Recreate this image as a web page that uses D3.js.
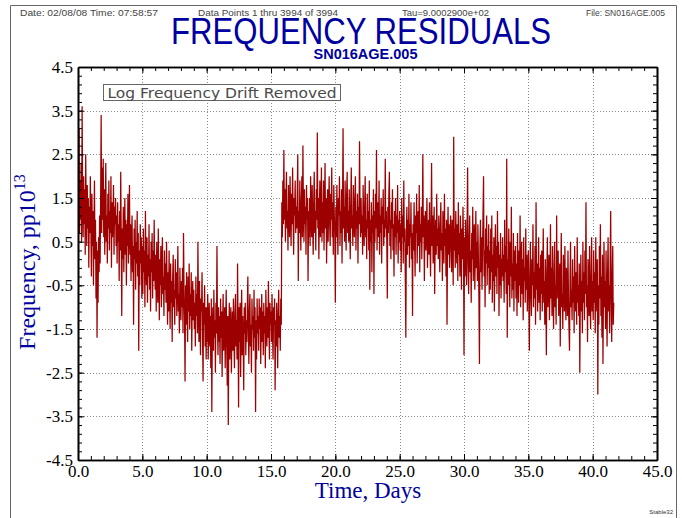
<!DOCTYPE html>
<html>
<head>
<meta charset="utf-8">
<script src="https://cdn.jsdelivr.net/npm/d3@7"></script>
<style>
  body { margin: 0; background: #fff; }
  svg { display: block; }
</style>
</head>
<body>
<svg id="chart" width="682" height="518"></svg>
<script>
// Spacing of the plotted residual samples, in days (25 samples per day)
const sampleStepDays = 0.04;

// Frequency residuals (pp10^13) after log drift removal, one row per day
const residuals = [
  /* day 0 */  2.1, 1.2, 3.1, 0.7, 1.9, 1.0, 2.3, 0.5, 3.6, 1.4, 0.6, 2.0, 0.9, 1.7, 0.2, 2.5, 1.1, 0.4, 1.8, 0.8, 1.5, -0.1, 1.3, 0.7, 2.0,
  /* day 1 */  0.9, -0.3, 1.6, 0.4, 1.2, -0.5, 0.8, 1.9, 0.1, 1.0, -0.8, 0.5, -1.7, 0.3, -0.9, 0.6, -0.2, 1.1, 0.0, 1.5, 3.4, 0.7, 2.2, 1.0, 2.4,
  /* day 2 */  0.6, 1.7, 0.2, 1.3, 2.3, 0.5, 1.1, 0.0, 1.6, 0.8, 1.9, 0.3, 1.2, 0.7, 2.0, -0.1, 1.4, 0.6, 1.0, 1.8, 0.2, 1.3, 0.9, 1.5, 0.4,
  /* day 3 */  1.1, 0.0, 1.4, 0.5, 0.9, -0.4, 1.2, 0.3, 2.1, 0.6, -1.2, 0.8, 0.1, 1.3, -0.2, 0.7, 1.5, 0.2, 1.0, -0.5, 0.9, 0.4, 1.6, 0.0, 0.8,
  /* day 4 */  1.8, 0.2, 0.9, -0.4, 0.6, 1.1, -0.2, 0.4, -1.4, 0.8, 0.1, 1.0, -0.6, 0.5, 0.0, 1.2, -0.3, 0.7, -2.0, 0.3, -0.5, 0.9, 0.0, 0.6, -0.8,
  /* day 5 */  0.4, -0.7, 0.8, -0.2, 0.3, -1.0, 1.2, 0.0, -0.5, 0.6, -0.9, 0.2, -0.3, 0.9, -0.6, 0.1, -1.1, 0.5, -0.2, 0.7, -0.8, 0.3, -0.4, 1.0, -0.1,
  /* day 6 */  -0.6, 0.2, -1.1, 0.5, -0.4, -0.9, 0.8, -0.2, -1.3, 0.1, -0.5, 0.4, -1.0, -0.1, 0.6, -0.7, -0.3, -1.2, 0.3, -0.6, 0.0, -0.9, 0.5, -0.4, -1.4,
  /* day 7 */  -0.2, -1.1, 0.3, -0.7, -1.5, 0.0, -0.9, -0.4, -1.8, -0.3, 0.2, -1.0, -0.6, -1.4, 0.1, -0.8, -0.2, -1.2, -0.5, 0.4, -1.1, -0.7, -1.6, -0.1, -0.9,
  /* day 8 */  -1.3, -0.4, -1.0, -0.1, -1.6, 0.7, -0.6, -1.2, -2.7, -0.5, -1.4, -0.2, -0.9, -1.8, -0.3, -1.1, 0.0, -1.5, -0.7, -1.2, -0.2, -2.0, -0.8, -0.4, -1.3,
  /* day 9 */  -0.6, -1.5, -0.9, -1.9, -0.3, -1.2, -0.7, -1.6, 0.5, -1.0, -1.8, -0.4, -1.3, -2.1, -0.8, -1.1, -0.2, -1.7, -2.7, -0.9, -1.4, -0.5, -1.9, -1.0, -2.2,
  /* day 10 */ -1.0, -1.8, -0.7, -2.2, -1.3, -0.9, -1.9, -1.2, -2.4, -0.8, -3.4, -1.5, -1.0, -2.0, -0.6, -1.7, -1.3, -2.5, -0.9, -1.6, 0.4, -1.4, -2.1, -1.0, -1.8,
  /* day 11 */ -1.2, -2.3, -0.8, -1.7, -1.1, -2.6, -1.4, -0.7, -2.0, -1.5, -1.0, -2.4, -1.3, -0.6, -1.9, -2.8, -1.2, -3.7, -1.6, -0.9, -2.2, -1.4, -1.0, -2.5, -1.7,
  /* day 12 */ -1.1, -2.0, -0.8, -1.6, -2.4, -1.2, -0.7, -1.9, -1.3, -2.2, 0.0, -1.5, -3.3, -1.0, -1.8, -0.9, -2.6, -1.4, -0.6, -2.1, -1.2, -1.7, -2.9, -1.0, -1.6,
  /* day 13 */ -0.9, -2.1, -1.3, -1.8, -1.0, -0.3, -1.6, -2.3, -1.1, -0.7, -1.9, -1.4, -2.5, -0.8, -1.5, -1.2, -2.0, -0.6, -1.7, -1.0, -3.4, -1.3, -2.2, -0.8, -1.6,
  /* day 14 */ -1.2, -2.0, -0.8, -1.5, -1.0, -2.3, -1.4, -0.7, -1.8, -1.1, -2.1, -0.9, -1.6, -1.2, -2.4, -0.6, -1.3, -1.9, -1.0, -1.7, -0.4, -1.5, -2.2, -0.9, -1.4,
  /* day 15 */ -1.1, -1.8, -0.7, -1.6, -2.2, -1.0, -1.4, -0.8, -2.9, -1.3, -1.9, -0.9, -1.5, -2.4, -1.1, -0.6, -1.7, -1.2, -2.0, -0.8, -1.4, 1.4, 0.6, 1.9, 0.9,
  /* day 16 */ 2.6, 1.0, 1.7, 0.5, 1.4, 2.1, 0.8, 1.2, 0.3, 1.8, 1.1, 0.6, 2.0, 1.3, 0.4, 1.6, 0.9, 2.2, 1.0, 0.2, 1.5, 1.1, 1.9, 0.7, 1.3,
  /* day 17 */ 0.8, 1.6, 2.5, -0.4, 1.2, 0.7, 1.9, 1.0, 0.3, 1.4, 2.0, 0.6, 2.7, 1.1, 0.5, 1.7, 0.9, 1.3, 0.2, 1.8, 1.0, 1.5, -0.4, 1.2, 0.6,
  /* day 18 */ 1.5, 0.4, 2.0, 1.1, 0.6, 1.8, 0.9, 0.2, 1.4, 2.1, 0.7, 1.2, 0.3, 1.7, 1.0, 3.0, 0.8, 1.5, 0.1, 1.3, 1.9, 0.6, 1.1, 2.2, 0.5,
  /* day 19 */ 1.4, 0.7, 1.9, 0.3, 1.2, 2.3, 0.8, 1.5, 0.0, 1.1, 1.7, 0.5, 1.3, 2.0, 0.9, 0.4, 1.6, 1.0, 2.2, 0.6, 1.4, 0.2, 1.8, 1.1, 0.7,
  /* day 20 */ -0.9, 1.3, 0.6, 1.8, 0.9, 0.2, 1.5, 1.1, 2.0, 0.4, 1.2, 0.7, 1.7, 0.0, 1.4, 3.1, 0.8, 1.3, 0.5, 1.9, 1.0, 0.3, 1.6, 2.1, 0.7,
  /* day 21 */ 1.2, 0.5, 1.7, 0.9, 0.1, 1.4, 2.2, 0.8, 1.1, 0.4, 1.8, 1.0, 0.6, 1.5, 2.0, 0.3, 1.2, 0.8, 1.6, 0.0, 1.3, 0.9, 2.8, 1.1, 0.6,
  /* day 22 */ 1.5, 0.7, 1.1, 0.2, 1.8, 0.9, 0.4, 1.3, 2.0, 0.6, 1.0, 0.1, 1.6, 0.8, 1.2, 0.3, 1.9, -0.6, 1.0, 0.5, 1.4, -0.2, 1.1, 0.7, 1.7,
  /* day 23 */ -0.7, 1.2, 0.5, 1.6, 0.8, 2.6, 0.3, 1.0, 1.4, 0.6, 1.9, 0.2, 1.1, 0.7, 1.5, 0.0, 1.3, 0.9, 1.7, 0.4, 1.0, 0.6, 2.4, 0.8, 1.2,
  /* day 24 */ 0.5, -0.8, 1.3, 0.7, 1.6, 2.1, 0.4, 1.0, 0.1, 1.4, 0.8, 1.7, 0.3, 0.9, -0.3, 1.2, 0.6, 1.5, 0.2, 1.1, 0.7, 1.8, 0.0, 1.0, 0.5,
  /* day 25 */ 1.2, 0.3, 0.9, -0.2, 1.5, 0.6, 1.1, 0.0, 1.9, 0.5, 0.8, -0.4, -1.7, 0.7, 1.3, 0.2, 1.0, 0.4, 1.6, -0.1, 0.9, 0.6, 1.4, 0.1, 0.7,
  /* day 26 */ -1.2, 0.9, 0.3, 1.4, 0.6, -0.3, 1.1, 0.7, 1.6, 0.0, 0.8, 1.2, 0.4, 1.8, -0.2, 0.9, 0.5, 1.3, 0.1, 1.0, 2.5, 0.6, 1.1, -0.4, 0.8,
  /* day 27 */ 1.2, 0.3, 0.8, 1.5, -0.1, 0.6, 1.0, 0.2, 1.4, 0.5, -0.3, 0.9, 2.3, 0.4, 1.1, 0.0, 0.7, 1.3, -0.7, 0.6, 1.0, 0.2, 1.6, 0.4, 0.8,
  /* day 28 */ 0.1, 1.1, 0.5, -0.2, 0.9, 1.4, 0.3, 0.7, -0.4, 1.2, 0.6, 0.0, 1.6, 0.4, 0.8, -0.3, 1.0, -1.4, 0.5, 1.3, 0.2, 0.9, -0.1, 0.6, 1.1,
  /* day 29 */ 0.4, -0.2, 1.0, 0.6, -0.5, 2.9, 0.3, 0.8, -0.1, 1.2, 0.5, 0.0, 0.9, -0.4, 1.4, 0.2, 0.7, -0.3, 1.1, 0.4, -0.6, 0.8, 0.1, 1.3, 0.5,
  /* day 30 */ -2.1, 0.6, -0.3, 1.0, 0.2, -0.5, 0.8, 2.2, 0.0, -0.7, 0.5, 1.1, -0.2, 0.3, -0.9, 0.7, 0.1, 1.3, -0.4, 0.4, 0.9, -0.6, 0.2, 1.2, -0.1,
  /* day 31 */ 0.5, -0.4, 0.9, 0.1, -0.8, -2.3, 0.4, 1.0, -0.2, 0.6, -0.6, 0.2, 1.2, 2.0, -0.3, 0.3, -1.0, 0.8, 0.0, 1.1, -0.5, 0.4, -0.1, 0.9, -0.7,
  /* day 32 */ 0.3, -0.6, 0.8, -0.2, 1.1, -0.9, 0.2, -0.4, 0.6, -1.1, 0.0, 0.9, -0.3, 0.4, -0.7, 1.2, -0.1, 0.5, -1.2, 0.2, -0.5, 0.7, -0.8, 0.1, -0.3,
  /* day 33 */ 0.6, -0.4, 0.2, -0.9, 1.0, -0.2, 0.4, -0.7, 2.4, -1.7, 0.1, -0.5, 0.8, -0.1, -1.0, 0.5, -0.3, 1.3, -0.8, 0.0, -0.6, 0.7, -1.1, 0.3, -0.4,
  /* day 34 */ 0.4, -0.8, 0.0, -1.2, 0.7, -0.3, -0.9, 0.3, -0.5, 1.1, -1.0, -0.2, 0.5, -0.7, 0.1, -1.3, 0.6, -0.4, -0.1, -0.9, 0.8, -0.6, 0.2, -1.1, -0.2,
  /* day 35 */ 0.3, -0.9, -2.0, -0.3, 0.5, -0.7, -1.2, 0.1, -0.5, 0.9, -1.0, -0.2, -0.8, 0.4, -1.4, 1.4, -0.6, 0.0, -1.1, -0.4, 0.6, -0.9, -0.1, -1.3, 0.2,
  /* day 36 */ -0.7, 0.3, -1.1, -0.3, 0.8, -0.9, -0.4, -1.4, 0.1, -0.6, -2.1, -0.2, 0.6, -1.0, -0.5, 0.2, -1.3, -0.7, 0.9, -0.8, -0.1, -1.2, 0.4, -0.6, -1.5,
  /* day 37 */ -0.3, 0.5, -1.0, -0.5, -1.4, 1.1, -0.8, -0.2, 0.3, -1.2, -0.6, 0.0, -1.9, -0.4, 0.7, -1.0, -0.7, -1.5, 0.2, -0.3, -1.1, 0.4, -0.8, -1.3, -0.1,
  /* day 38 */ -0.5, -1.2, 0.3, -0.8, -1.5, -2.0, -0.4, 0.5, -1.0, -0.6, -1.3, 0.1, -0.9, -0.3, -1.6, 0.4, -0.7, -1.1, -0.2, -1.4, 0.6, -0.9, -0.5, -1.2, 0.0,
  /* day 39 */ -2.5, -0.8, 0.2, -1.1, -0.4, -1.6, 0.5, -0.9, -0.2, -1.3, 0.3, -0.7, 1.4, -1.0, -0.5, -1.8, 0.1, -0.6, -1.2, 0.4, -0.9, -1.5, -0.3, 0.6, -1.1,
  /* day 40 */ -0.4, -1.3, 0.3, -0.9, -0.2, -1.6, 0.6, -0.7, -1.1, 0.1, -3.0, -0.5, -1.4, 0.4, -0.8, 0.9, -1.2, -0.3, -1.7, 0.2, -2.3, -0.6, 0.5, -1.0, -0.4,
  /* day 41 */ -1.5, 0.3, -0.8, -1.9, -0.2, 0.6, -1.1, -0.5, -1.6, 0.1, 1.2, -0.9, -1.8, -0.3, 0.4, -1.4, -0.9
];

// Axis ticks and their labels
const xTicks = [0, 5, 10, 15, 20, 25, 30, 35, 40, 45];
const xTickLabels = ["0.0", "5.0", "10.0", "15.0", "20.0", "25.0", "30.0", "35.0", "40.0", "45.0"];
const yTicks = [-4.5, -3.5, -2.5, -1.5, -0.5, 0.5, 1.5, 2.5, 3.5, 4.5];
const yTickLabels = ["-4.5", "-3.5", "-2.5", "-1.5", "-0.5", "0.5", "1.5", "2.5", "3.5", "4.5"];
const xMinorStep = 1;
const yMinorStep = 0.2;

// Header and annotation texts
const titleText = "FREQUENCY RESIDUALS";
const subtitleText = "SN016AGE.005";
const dateText = "Date: 02/08/08  Time: 07:58:57";
const pointsText = "Data Points 1 thru 3994 of 3994";
const tauText = "Tau=9.0002900e+02";
const fileText = "File: SN016AGE.005";
const noteText = "Log Frequency Drift Removed";
const xLabel = "Time, Days";
const yLabel = "Frequency, pp10";
const yLabelExp = "13";
const footerText = "Stable32";

const svg = d3.select("#chart");
const blue = "#0000a0";
const plot = { left: 78, right: 657, top: 67, bottom: 460 };

const x = d3.scaleLinear().domain([0, 45]).range([plot.left, plot.right]);
const y = d3.scaleLinear().domain([-4.5, 4.5]).range([plot.bottom, plot.top]);

// Page frame
svg.append("path")
  .attr("d", "M10.5,518V5.5H676.5V518")
  .attr("fill", "none")
  .attr("stroke", "#666")
  .attr("stroke-width", 1);

// Header line
const header = svg.append("g")
  .attr("font-family", "'Liberation Sans', Arial, sans-serif")
  .attr("font-size", 9)
  .attr("fill", "#444")
  .style("white-space", "pre");
header.append("text").attr("x", 20).attr("y", 16).attr("textLength", 138).attr("lengthAdjust", "spacingAndGlyphs").text(dateText);
header.append("text").attr("x", 198).attr("y", 16).attr("textLength", 140).attr("lengthAdjust", "spacingAndGlyphs").text(pointsText);
header.append("text").attr("x", 402).attr("y", 16).attr("textLength", 87).attr("lengthAdjust", "spacingAndGlyphs").text(tauText);
header.append("text").attr("x", 586).attr("y", 16).attr("textLength", 79).attr("lengthAdjust", "spacingAndGlyphs").text(fileText);

// Title and file name
svg.append("text")
  .attr("x", 361).attr("y", 43.5)
  .attr("text-anchor", "middle")
  .attr("font-family", "'Liberation Sans', Arial, sans-serif")
  .attr("font-size", 36)
  .attr("textLength", 380)
  .attr("lengthAdjust", "spacingAndGlyphs")
  .attr("fill", blue)
  .text(titleText);
svg.append("text")
  .attr("x", 365.5).attr("y", 58.5)
  .attr("text-anchor", "middle")
  .attr("font-family", "'Liberation Sans', Arial, sans-serif")
  .attr("font-weight", "bold")
  .attr("font-size", 14.5)
  .attr("fill", blue)
  .text(subtitleText);

// Dotted grid at the inner major ticks
const grid = svg.append("g")
  .attr("stroke", "#8a8a8a")
  .attr("stroke-width", 1)
  .attr("stroke-dasharray", "1,2");
grid.selectAll("line.gx")
  .data(xTicks.filter(d => d > 0 && d < 45))
  .join("line")
  .attr("class", "gx")
  .attr("x1", d => Math.round(x(d)) + 0.5).attr("x2", d => Math.round(x(d)) + 0.5)
  .attr("y1", plot.top).attr("y2", plot.bottom);
grid.selectAll("line.gy")
  .data(yTicks.filter(d => d > -4.5 && d < 4.5))
  .join("line")
  .attr("class", "gy")
  .attr("y1", d => Math.round(y(d)) + 0.5).attr("y2", d => Math.round(y(d)) + 0.5)
  .attr("x1", plot.left).attr("x2", plot.right);

// Residual trace
svg.append("clipPath").attr("id", "plot-clip")
  .append("rect")
  .attr("x", plot.left).attr("y", plot.top)
  .attr("width", plot.right - plot.left).attr("height", plot.bottom - plot.top);

const trace = d3.line()
  .x((d, i) => x(i * sampleStepDays))
  .y(d => y(d));

svg.append("path")
  .datum(residuals)
  .attr("clip-path", "url(#plot-clip)")
  .attr("d", trace)
  .attr("fill", "none")
  .attr("stroke", "#9c0000")
  .attr("stroke-width", 1.25)
  .attr("stroke-linejoin", "bevel");

// Note box
const note = svg.append("g");
note.append("rect")
  .attr("x", 103.5).attr("y", 84.5)
  .attr("width", 237).attr("height", 16)
  .attr("fill", "#fff")
  .attr("stroke", "#666");
note.append("text")
  .attr("x", 107.5).attr("y", 97.5)
  .attr("font-family", "'DejaVu Sans', sans-serif")
  .attr("font-size", 14)
  .attr("textLength", 229)
  .attr("lengthAdjust", "spacingAndGlyphs")
  .attr("fill", "#4a4a4a")
  .text(noteText);

// Axes: ticks point into the plot on all four sides
const xMinor = d3.range(0, 46, xMinorStep);
const yMinor = d3.range(46).map(i => -4.5 + i * yMinorStep);

function styleAxis(g) {
  g.attr("font-family", "'Liberation Serif', 'Times New Roman', serif")
   .attr("font-size", 17);
  g.selectAll("text").attr("fill", "#000");
  g.selectAll("line").attr("stroke", "#000");
  g.select(".domain").attr("stroke", "#000").attr("stroke-width", 1.6);
}

svg.append("g")
  .attr("transform", `translate(${plot.left},0)`)
  .call(d3.axisLeft(y).tickValues(yMinor).tickFormat("").tickSizeInner(-4).tickSizeOuter(0))
  .call(styleAxis);
svg.append("g")
  .attr("transform", `translate(${plot.left},0)`)
  .call(d3.axisLeft(y).tickValues(yTicks).tickFormat((d, i) => yTickLabels[i]).tickSizeInner(-6).tickSizeOuter(0).tickPadding(5))
  .call(styleAxis);

svg.append("g")
  .attr("transform", `translate(${plot.right},0)`)
  .call(d3.axisRight(y).tickValues(yMinor).tickFormat("").tickSizeInner(-4).tickSizeOuter(0))
  .call(styleAxis);
svg.append("g")
  .attr("transform", `translate(${plot.right},0)`)
  .call(d3.axisRight(y).tickValues(yTicks).tickFormat("").tickSizeInner(-6).tickSizeOuter(0))
  .call(styleAxis);

svg.append("g")
  .attr("transform", `translate(0,${plot.bottom})`)
  .call(d3.axisBottom(x).tickValues(xMinor).tickFormat("").tickSizeInner(-4).tickSizeOuter(0))
  .call(styleAxis);
svg.append("g")
  .attr("transform", `translate(0,${plot.bottom})`)
  .call(d3.axisBottom(x).tickValues(xTicks).tickFormat((d, i) => xTickLabels[i]).tickSizeInner(-6).tickSizeOuter(0).tickPadding(5))
  .call(styleAxis);

svg.append("g")
  .attr("transform", `translate(0,${plot.top})`)
  .call(d3.axisTop(x).tickValues(xMinor).tickFormat("").tickSizeInner(-4).tickSizeOuter(0))
  .call(styleAxis);
svg.append("g")
  .attr("transform", `translate(0,${plot.top})`)
  .call(d3.axisTop(x).tickValues(xTicks).tickFormat("").tickSizeInner(-6).tickSizeOuter(0))
  .call(styleAxis);

// Axis titles
svg.append("text")
  .attr("x", 368).attr("y", 498)
  .attr("text-anchor", "middle")
  .attr("font-family", "'Liberation Serif', 'Times New Roman', serif")
  .attr("font-size", 23)
  .attr("fill", blue)
  .text(xLabel);

const yTitle = svg.append("text")
  .attr("transform", "translate(35,262) rotate(-90)")
  .attr("text-anchor", "middle")
  .attr("font-family", "'Liberation Serif', 'Times New Roman', serif")
  .attr("font-size", 24)
  .attr("fill", blue);
yTitle.append("tspan").text(yLabel);
yTitle.append("tspan").attr("dy", -10).attr("font-size", 16).text(yLabelExp);

// Footer
svg.append("text")
  .attr("x", 673).attr("y", 514)
  .attr("text-anchor", "end")
  .attr("font-family", "'Liberation Sans', Arial, sans-serif")
  .attr("font-size", 6)
  .attr("fill", "#333")
  .text(footerText);
</script>
</body>
</html>
